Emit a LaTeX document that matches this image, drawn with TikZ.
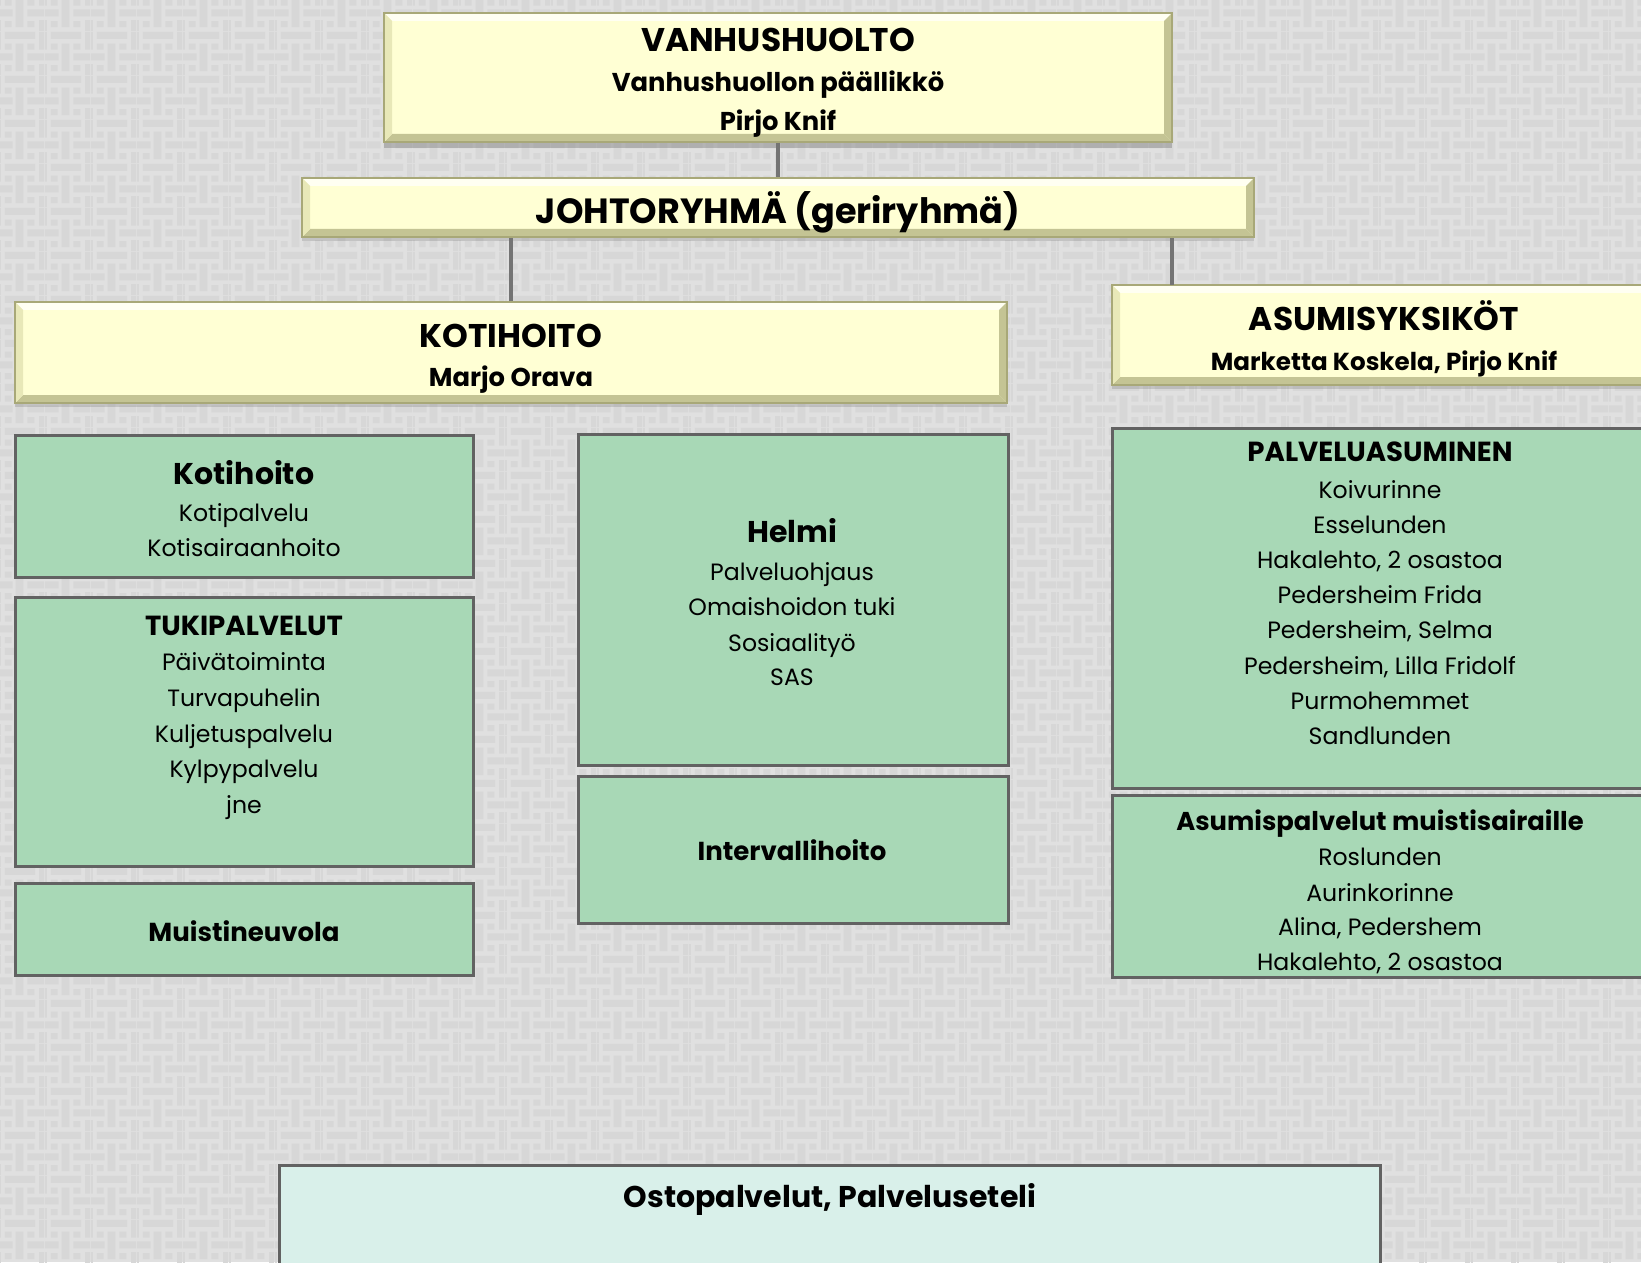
\documentclass[tikz,border=0pt]{standalone}
\usepackage{fontspec}
\setmainfont{Poppins}
\usetikzlibrary{shadows,fit,patterns.meta}
\definecolor{bglite}{HTML}{E0E0E0}
\definecolor{bgdark}{HTML}{D7D7D7}
\definecolor{yfill}{HTML}{FFFFD4}
\definecolor{ybord}{HTML}{A8A878}
\definecolor{ylite}{HTML}{FFFFF2}
\definecolor{ydark}{HTML}{C4C494}
\definecolor{yside}{HTML}{E8E8B8}
\definecolor{gfill}{HTML}{A8D8B6}
\definecolor{gbord}{HTML}{626262}
\definecolor{ofill}{HTML}{D9F0EA}
\definecolor{conn}{HTML}{747474}
\tikzdeclarepattern{
  name=weave,
  type=uncolored,
  bottom left={(0pt,0pt)},
  top right={(23pt,22pt)},
  tile size={(23pt,22pt)},
  code={
    \fill (3pt,18.5pt) rectangle (18.5pt,22pt);
    \fill (14.5pt,7.5pt) rectangle (23pt,11pt);
    \fill (0pt,7.5pt) rectangle (7pt,11pt);
    \fill (8.5pt,2pt) rectangle (12.5pt,16pt);
    \fill (20.5pt,0pt) rectangle (23pt,5.5pt);
    \fill (20.5pt,13pt) rectangle (23pt,22pt);
    \fill (0pt,0pt) rectangle (1pt,5.5pt);
    \fill (0pt,13pt) rectangle (1pt,22pt);
    \fill (3pt,13pt) rectangle (6.5pt,16pt);
    \fill (14.5pt,13pt) rectangle (18pt,16pt);
    \fill (3pt,2pt) rectangle (6.5pt,5pt);
    \fill (14.5pt,2pt) rectangle (18pt,5pt);
  }
}
\tikzset{
  bevel/.style={path picture={
    \fill[ylite] (path picture bounding box.north west) -- (path picture bounding box.north east)
      -- ([xshift=-4pt,yshift=-4pt]path picture bounding box.north east) -- ([xshift=4pt,yshift=-4pt]path picture bounding box.north west) -- cycle;
    \fill[ydark] (path picture bounding box.south west) -- (path picture bounding box.south east)
      -- ([xshift=-4pt,yshift=4pt]path picture bounding box.south east) -- ([xshift=4pt,yshift=4pt]path picture bounding box.south west) -- cycle;
    \fill[yside] (path picture bounding box.south west) -- (path picture bounding box.north west)
      -- ([xshift=4pt,yshift=-4pt]path picture bounding box.north west) -- ([xshift=4pt,yshift=4pt]path picture bounding box.south west) -- cycle;
    \fill[ydark] (path picture bounding box.south east) -- (path picture bounding box.north east)
      -- ([xshift=-4pt,yshift=-4pt]path picture bounding box.north east) -- ([xshift=-4pt,yshift=4pt]path picture bounding box.south east) -- cycle;
  }},
  ybox/.style={draw=ybord, line width=0.6pt, fill=yfill, inner sep=0pt, bevel},
  gbox/.style={draw=gbord, line width=1.5pt, fill=gfill, inner sep=0pt},
  obox/.style={draw=gbord, line width=1.5pt, fill=ofill, inner sep=0pt},
  tl/.style={anchor=mid, inner sep=0pt},
  big/.style={tl, yshift=-3.2pt, font=\bfseries\fontsize{16.4}{18}\selectfont},
  sub/.style={tl, yshift=-2.6pt, font=\bfseries\fontsize{12.9}{15}\selectfont},
  gtitle/.style={tl, yshift=-3pt, font=\bfseries\fontsize{15}{18}\selectfont},
  gcap/.style={tl, yshift=-2.6pt, font=\bfseries\fontsize{13.8}{16}\selectfont},
  glabel/.style={tl, yshift=-2.6pt, font=\bfseries\fontsize{13}{16}\selectfont},
  item/.style={tl, yshift=-2pt, font=\fontsize{11.8}{14}\selectfont},
  connector/.style={draw=conn, line width=2pt},
}
\begin{document}
\begin{tikzpicture}[x=0.5pt,y=-0.5pt]
\fill[bglite] (0,0) rectangle (1641,1262);
\fill[pattern=weave, pattern color=bgdark] (0,0) rectangle (1641,1262);
\useasboundingbox (0,0) rectangle (1641,1262);

% boxes
\node[ybox, drop shadow={opacity=0.45, shadow xshift=0pt, shadow yshift=-3pt}, fit={(384,13) (1172,142)}] (vanhus) {};
\node[ybox, drop shadow={opacity=0.3, shadow xshift=0pt, shadow yshift=-2pt}, fit={(302,178) (1254,237)}] (johto) {};
\node[ybox, drop shadow={opacity=0.3, shadow xshift=0pt, shadow yshift=-2pt}, fit={(15,302) (1007,403)}] (koti) {};
\node[ybox, drop shadow={opacity=0.3, shadow xshift=0pt, shadow yshift=-2pt}, fit={(1112,285) (1660,385)}] (asumis) {};

\node[gbox, fit={(15,435) (473,577)}] (gkoti) {};
\node[gbox, fit={(15,597) (473,866)}] (gtuki) {};
\node[gbox, fit={(15,883) (473,975)}] (gmuisti) {};
\node[gbox, fit={(578,434) (1008,765)}] (ghelmi) {};
\node[gbox, fit={(578,776) (1008,923)}] (ginterv) {};
\node[gbox, fit={(1112,428) (1660,788)}] (gpalv) {};
\node[gbox, fit={(1112,795) (1660,977)}] (gmuist) {};
\node[obox, fit={(279,1165) (1380,1290)}] (osto) {};

% connectors
\draw[connector] (vanhus.south) -- (johto.north);
\draw[connector] (koti.north) -- (koti.north |- johto.south);
\coordinate (ac) at (1172,285);
\draw[connector] (ac) -- (ac |- johto.south);

% header texts
\node[big] (t1) at (778,40) {VANHUSHUOLTO};
\node[sub] (t2) at (778,81) {Vanhushuollon päällikkö};
\node[sub] (t3) at (778,120) {Pirjo Knif};
\node[tl, yshift=-4.3pt, font=\bfseries\fontsize{17.5}{21}\selectfont] (t4) at (778,209) {JOHTORYHMÄ (geriryhmä)};
\node[big] (t5) at (511,336) {KOTIHOITO};
\node[sub] (t6) at (511,376) {Marjo Orava};
\node[big] (t7) at (1384,319) {ASUMISYKSIKÖT};
\node[sub, font=\bfseries\fontsize{12.3}{15}\selectfont] (t8) at (1384,360) {Marketta Koskela, Pirjo Knif};

% left column
\node[gtitle] (k0) at (244,473) {Kotihoito};
\node[item] (k1) at (244,512) {Kotipalvelu};
\node[item] (k2) at (244,547) {Kotisairaanhoito};
\node[gcap] (u0) at (244,625) {TUKIPALVELUT};
\foreach \y/\t [count=\i] in {661/Päivätoiminta, 697/Turvapuhelin, 733/Kuljetuspalvelu, 768/Kylpypalvelu, 804/jne}
  \node[item] (u\i) at (244,\y) {\t};
\node[glabel] (m0) at (244,931) {Muistineuvola};

% middle column
\node[gtitle] (h0) at (792,531) {Helmi};
\foreach \y/\t [count=\i] in {571/Palveluohjaus, 606/Omaishoidon tuki, 642/Sosiaalityö, 676/SAS}
  \node[item] (h\i) at (792,\y) {\t};
\node[glabel] (i0) at (792,850) {Intervallihoito};

% right column
\node[gcap] (p0) at (1380,451) {PALVELUASUMINEN};
\foreach \y/\t [count=\i] in {489/Koivurinne, 524/Esselunden, 559/{Hakalehto, 2 osastoa}, 594/Pedersheim Frida, 629/{Pedersheim, Selma}, 665/{Pedersheim, Lilla Fridolf}, 700/Purmohemmet, 735/Sandlunden}
  \node[item] (p\i) at (1380,\y) {\t};
\node[tl, yshift=-3pt, font=\bfseries\fontsize{12.9}{16}\selectfont] (a0) at (1380,819) {Asumispalvelut muistisairaille};
\foreach \y/\t [count=\i] in {856/Roslunden, 892/Aurinkorinne, 926/{Alina, Pedershem}, 961/{Hakalehto, 2 osastoa}}
  \node[item] (a\i) at (1380,\y) {\t};

% bottom
\node[tl, yshift=-3pt, font=\bfseries\fontsize{15}{18}\selectfont] (o0) at (830,1196) {Ostopalvelut, Palveluseteli};
\end{tikzpicture}
\end{document}
